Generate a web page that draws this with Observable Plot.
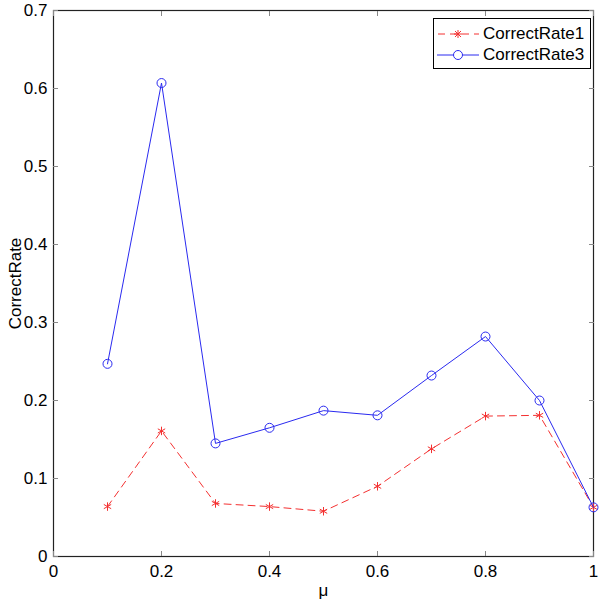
<!DOCTYPE html>
<html>
<head>
<meta charset="utf-8">
<script src="https://cdn.jsdelivr.net/npm/d3@7"></script>
<script src="https://cdn.jsdelivr.net/npm/@observablehq/plot@0.6"></script>
<style>
  html, body { margin: 0; padding: 0; background: #fff; }
  #wrap { position: relative; width: 600px; height: 605px; font-family: "Liberation Sans", Arial, sans-serif; }
  #legend { position: absolute; left: 433px; top: 18px; width: 156px; height: 49px; border: 1px solid #000; background: #fff; font-size: 17px; }
  #legend .row { display: flex; align-items: center; height: 21px; }
  #legend svg { display: block; margin-left: 2px; margin-right: 3px; }
</style>
</head>
<body>
<div id="wrap"></div>
<script>
const mu = [0.1, 0.2, 0.3, 0.4, 0.5, 0.6, 0.7, 0.8, 0.9, 1.0];
const correctRate1 = [0.064, 0.161, 0.068, 0.064, 0.058, 0.090, 0.138, 0.180, 0.181, 0.063];
const correctRate3 = [0.247, 0.607, 0.145, 0.165, 0.187, 0.181, 0.232, 0.282, 0.200, 0.063];
const seriesNames = ["CorrectRate1", "CorrectRate3"];
const xTicks = [0, 0.2, 0.4, 0.6, 0.8, 1];
const xTickLabels = ["0", "0.2", "0.4", "0.6", "0.8", "1"];
const yTicks = [0, 0.1, 0.2, 0.3, 0.4, 0.5, 0.6, 0.7];
const yTickLabels = ["0", "0.1", "0.2", "0.3", "0.4", "0.5", "0.6", "0.7"];

const red = "#f43030";
const blue = "#2a2af0";

const d1 = mu.map((m, i) => ({mu: m, v: correctRate1[i]}));
const d3s = mu.map((m, i) => ({mu: m, v: correctRate3[i]}));

const chart = Plot.plot({
  width: 600,
  height: 605,
  marginLeft: 53,
  marginRight: 7,
  marginTop: 10,
  marginBottom: 49,
  style: {fontFamily: "Liberation Sans, Arial, sans-serif", fontSize: "17px", color: "#000", background: "#fff"},
  x: {domain: [0, 1]},
  y: {domain: [0, 0.7]},
  marks: [
    Plot.frame({stroke: "#222", strokeWidth: 1.2}),
    Plot.axisX({anchor: "bottom", ticks: xTicks, tickSize: -5, tickPadding: 13, tickFormat: (d, i) => xTickLabels[i], stroke: "#888", label: "μ", labelAnchor: "center", labelArrow: "none", labelOffset: 39}),
    Plot.axisX({anchor: "top", ticks: xTicks, tickSize: -5, tickFormat: () => "", stroke: "#888", label: null}),
    Plot.axisY({anchor: "left", ticks: yTicks, tickSize: -5, tickPadding: 11, tickFormat: (d, i) => yTickLabels[i], stroke: "#888", label: "CorrectRate", labelAnchor: "center", labelArrow: "none", labelOffset: 45}),
    Plot.axisY({anchor: "right", ticks: yTicks, tickSize: -5, tickFormat: () => "", stroke: "#888", label: null}),
    Plot.line(d1, {x: "mu", y: "v", stroke: red, strokeWidth: 1, strokeDasharray: "7,5"}),
    Plot.dot(d1, {x: "mu", y: "v", symbol: "asterisk", stroke: red, strokeWidth: 1, r: 4}),
    Plot.line(d3s, {x: "mu", y: "v", stroke: blue, strokeWidth: 1}),
    Plot.dot(d3s, {x: "mu", y: "v", symbol: "circle", stroke: blue, fill: "none", strokeWidth: 1, r: 4.5})
  ]
});

const wrap = document.getElementById("wrap");
wrap.appendChild(chart);

const legend = document.createElement("div");
legend.id = "legend";
legend.innerHTML = `
  <div class="row" style="margin-top:4px">
    <svg width="44" height="20"><line x1="1" y1="10" x2="43" y2="10" stroke="${red}" stroke-dasharray="7,5" stroke-dashoffset="-1"/>
      <g stroke="${red}" transform="translate(22,10)"><line x1="-4" y1="0" x2="4" y2="0"/><line x1="0" y1="-4" x2="0" y2="4"/><line x1="-3" y1="-3" x2="3" y2="3"/><line x1="-3" y1="3" x2="3" y2="-3"/></g></svg>
    <span>${seriesNames[0]}</span>
  </div>
  <div class="row">
    <svg width="44" height="20"><line x1="1" y1="10" x2="43" y2="10" stroke="${blue}"/>
      <circle cx="22" cy="10" r="4.5" fill="#fff" stroke="${blue}"/></svg>
    <span>${seriesNames[1]}</span>
  </div>`;
wrap.appendChild(legend);
</script>
</body>
</html>
